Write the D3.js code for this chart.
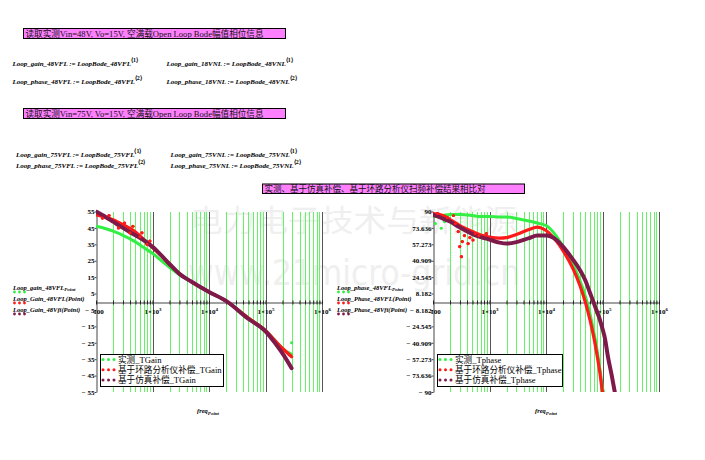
<!DOCTYPE html>
<html><head><meta charset="utf-8">
<script src="https://cdn.jsdelivr.net/npm/d3@7"></script>
<style>body{margin:0;background:#fff}svg{display:block}</style>
</head><body>
<svg id="c" width="705" height="460"></svg>
<script>
// ---------- data ----------
const gainFreq   = [100,150,200,300,500,700,1000,1500,2000,3000,5000,7000,10000,20000,50000,100000,150000,200000,290000];
const gainMeas   = [46,44.5,43,40.5,36.5,33,29.5,24.5,21,16.5,12,9,6,0.5,-10,-17.5,-24,-28.5,-32];
const gainAnaly  = [53,51.5,50,47,42.5,38,33,27.5,23,17,12,9,6,0.5,-10,-17.5,-24,-28.5,-33.5];
const gainSim    = [55,51.5,48.8,45,40.5,37.5,33.5,27.5,23,17,12,9,6,0.5,-10.5,-18,-25.5,-31.5,-40.5];
const gainAnalyScatter = [[130,51],[170,52.5],[250,45],[320,48],[400,42],[450,46],[600,39.5],[650,42],[800,35],[900,37]];
const gainMeasScatter  = [[290000,-25]];

const phaseFreq  = [100,150,200,300,500,700,1000,1500,2000,3000,5000,7000,10000,15000,20000,30000,40000,50000,60000,70000,80000,90000,100000,110000,125000,145000,165000];
const phaseMeas  = [85,86,87,87,86,85,85,84.5,84.5,83,80.5,78.5,76,66,55,37,21,5,-12,-30,-48,-67,-86,-95,-110,-130,-150];
const phaseAnaly = [88,86,82,76,70,66.5,64.5,63.5,64,67,72,74.5,71,61,51,33,16,-1,-18,-35,-53,-71,-90,-100,-115,-135,-155];
const phaseSim   = [86.5,83,80,74,67.5,64.5,62,59,58,59.5,63.5,66,66,62,55,42,31.5,21,9,-1,-10,-18,-27,-36,-55,-73,-90];
const phaseAnalyScatter = [[120,88],[180,84],[230,86],[250,78],[280,70],[297,55],[318,45],[330,60],[360,66],[418,58],[450,64],[510,61.6],[560,68],[650,66],[880,68]];
const phaseMeasScatter  = [[110,78],[140,73.3],[160,80],[197,83],[260,76]];

const gainTicks  = [55,45,35,25,15,5,-5,-15,-25,-35,-45,-55];
const phaseTicks = [90,73.636,57.273,40.909,24.545,8.182,-8.182,-24.545,-40.909,-57.273,-73.636,-90];
const decades    = [100,1000,10000,100000];
const majorFreqs = [1000,10000,100000,1000000];
const majorExp   = ["3","4","5","6"];

const gainLegend  = ["实测_TGain","基于环路分析仪补偿_TGain","基于仿真补偿_TGain"];
const phaseLegend = ["实测_Tphase","基于环路分析仪补偿_Tphase","基于仿真补偿_Tphase"];
const colors = ["#33ee44","#ff1a1a","#7d1a4a"];

const svg = d3.select("#c");
svg.append("rect").attr("width",705).attr("height",460).attr("fill","#fff");

const SERIF = "'Liberation Serif','Times New Roman',serif";
const CJK = "'Liberation Serif','Noto Sans CJK SC',serif";

// ---------- watermark ----------
svg.append("text").attr("x",190).attr("y",231).attr("font-family","'Noto Sans CJK SC'")
  .attr("font-size",30).attr("fill","#efefef").attr("textLength",327).attr("lengthAdjust","spacingAndGlyphs")
  .text("电力电子技术与新能源");
svg.append("text").attr("x",188).attr("y",285).attr("font-family","'DejaVu Sans'")
  .attr("font-size",36).attr("fill","#efefef").attr("textLength",332).attr("lengthAdjust","spacingAndGlyphs")
  .text("www.21micro-grid.cn");

// ---------- title boxes ----------
function titleBox(x,y,w,h,len,txt){
  svg.append("rect").attr("x",x).attr("y",y).attr("width",w).attr("height",h)
    .attr("fill","#ff80ff").attr("stroke","#000").attr("stroke-width",1);
  svg.append("text").attr("x",x+2).attr("y",y+h-1.8).attr("font-family",CJK).attr("font-size",8.8)
    .attr("textLength",len).attr("lengthAdjust","spacingAndGlyphs").attr("fill","#111").text(txt);
}
titleBox(23.5,28.5,262,10,238,"读取实测Vin=48V, Vo=15V, 空满载Open Loop Bode幅值相位信息");
titleBox(23.5,108.5,262,10,238,"读取实测Vin=75V, Vo=15V, 空满载Open Loop Bode幅值相位信息");
titleBox(262.5,184,262,9.5,221,"实测、基于仿真补偿、基于环路分析仪扫频补偿结果相比对");

// ---------- equations ----------
function eq(x,y,main,sup){
  const t = svg.append("text").attr("x",x).attr("y",y).attr("font-family",SERIF).attr("font-size",7)
    .attr("font-weight","bold").attr("font-style","italic").attr("fill","#000");
  t.append("tspan").text(main);
  t.append("tspan").attr("dy",-4).attr("font-size",6).attr("font-style","normal").text(sup);
}
eq(12.5,65.5,"Loop_gain_48VFL := LoopBode_48VFL","⟨1⟩");
eq(12.5,83.5,"Loop_phase_48VFL := LoopBode_48VFL","⟨2⟩");
eq(166.5,65.5,"Loop_gain_18VNL := LoopBode_48VNL","⟨1⟩");
eq(166.5,83.5,"Loop_phase_18VNL := LoopBode_48VNL","⟨2⟩");
eq(16,156.5,"Loop_gain_75VFL := LoopBode_75VFL","⟨1⟩");
eq(16,167.5,"Loop_phase_75VFL := LoopBode_75VFL","⟨2⟩");
eq(170.5,156.5,"Loop_gain_75VNL := LoopBode_75VNL","⟨1⟩");
eq(170.5,167.5,"Loop_phase_75VNL := LoopBode_75VNL","⟨2⟩");

// ---------- chart ----------
function drawChart(cfg){
  const {x,y,ticks,fmt,lines,scatters,legend,legendBox,outLegend,outX,xLabelX,id} = cfg;
  const [x0,x1] = x.range(); const [yb,yt] = y.range();
  const g = svg.append("g");
  const minors = [];
  decades.forEach(d=>{ for(let k=2;k<=9;k++) minors.push(k*d); });
  const px = v => Math.round(x(v))+0.5;
  g.selectAll(null).data(minors).join("line")
    .attr("x1",px).attr("x2",px).attr("y1",yt).attr("y2",yb)
    .attr("stroke","#66f266").attr("stroke-width",1).attr("shape-rendering","crispEdges");
  g.selectAll(null).data(majorFreqs).join("line")
    .attr("x1",px).attr("x2",px).attr("y1",yt).attr("y2",yb)
    .attr("stroke","#555").attr("stroke-width",1).attr("shape-rendering","crispEdges");

  // y axis
  const gy = g.append("g").attr("transform",`translate(${Math.round(x0)+0.5},0)`)
    .call(d3.axisLeft(y).tickValues(ticks).tickSizeInner(2).tickSizeOuter(0).tickFormat(fmt));
  gy.select(".domain").attr("stroke","#444");
  gy.selectAll(".tick line").attr("stroke","#444");
  gy.selectAll(".tick text").attr("x",-2).attr("font-family",SERIF).attr("font-size",7)
    .attr("font-weight","bold").attr("fill","#000");

  // x axis at zero
  const y0 = Math.round(y(0))+0.5;
  const allX = [100,...minors,...majorFreqs];
  const gx = g.append("g").attr("transform",`translate(0,${y0})`)
    .call(d3.axisBottom(x).tickValues(allX).tickSizeInner(2).tickSizeOuter(0)
      .tickFormat(d => d===100 ? "100" : (majorFreqs.includes(d) ? "1×10" : "")));
  gx.select(".domain").attr("stroke","#444").attr("stroke-width",1.2);
  gx.selectAll(".tick line").attr("y1",-2).attr("y2",2).attr("stroke","#222");
  gx.selectAll(".tick text").attr("y",7).attr("dy","0.71em").attr("font-family",SERIF)
    .attr("font-size",7).attr("font-weight","bold").attr("fill","#000")
    .each(function(d){
      const i = majorFreqs.indexOf(d);
      if(i>=0){ d3.select(this).append("tspan").attr("dy",-3).attr("font-size",5).text(majorExp[i]); }
      if(d===100){ d3.select(this).attr("dx",2); }
    });

  // data
  const clip = svg.append("clipPath").attr("id",id).append("rect")
    .attr("x",x0).attr("y",yt-2).attr("width",x1-x0+4).attr("height",yb-yt+2);
  const dg = g.append("g").attr("clip-path",`url(#${id})`);
  const line = d3.line().x(d=>x(d[0])).y(d=>y(d[1])).curve(d3.curveMonotoneX);
  const widths = [3,3.2,4];
  scatters.forEach((s,i)=>{
    dg.selectAll(null).data(s).join("circle").attr("cx",d=>x(d[0])).attr("cy",d=>y(d[1]))
      .attr("r",1.6).attr("fill",colors[i]);
  });
  lines.forEach((L,i)=>{
    dg.append("path").datum(L).attr("d",line).attr("fill","none").attr("stroke",colors[i])
      .attr("stroke-width",widths[i]).attr("stroke-linejoin","round").attr("stroke-linecap","round");
  });
  dg.selectAll(null).data(scatters[1]).join("circle").attr("cx",d=>x(d[0])).attr("cy",d=>y(d[1]))
      .attr("r",1.6).attr("fill",colors[1]);

  // legend box
  const [lx,ly,lw,lh] = legendBox;
  g.append("rect").attr("x",lx+0.5).attr("y",ly+0.5).attr("width",lw).attr("height",lh)
    .attr("fill","#fff").attr("stroke","#000").attr("stroke-width",1);
  legend.forEach((t,i)=>{
    const by = ly + 8 + i*10.3;
    [3,8.5,14].forEach(dx=> g.append("circle").attr("cx",lx+dx).attr("cy",by-2.5).attr("r",1.5).attr("fill",colors[i]));
    g.append("text").attr("x",lx+18).attr("y",by+0.5).attr("font-family",CJK).attr("font-size",8.6)
      .attr("fill","#000").text(t);
  });

  // outside legend
  outLegend.forEach((o,i)=>{
    const ty = 289.5 + i*11;
    const t = g.append("text").attr("x",outX).attr("y",ty).attr("font-family",SERIF).attr("font-size",6.5)
      .attr("font-weight","bold").attr("font-style","italic").attr("fill","#000");
    t.append("tspan").text(o[0]);
    if(o[1]) t.append("tspan").attr("dy",1.5).attr("font-size",5).text(o[1]);
    [1.5,6.5,11.5].forEach(dx=> g.append("circle").attr("cx",outX+dx).attr("cy",ty+2.5).attr("r",1.4).attr("fill",colors[i]));
  });

  // x label
  const xl = g.append("text").attr("x",xLabelX).attr("y",413).attr("font-family",SERIF).attr("font-size",6.5)
    .attr("font-weight","bold").attr("font-style","italic").attr("fill","#000");
  xl.append("tspan").text("freq");
  xl.append("tspan").attr("dy",2).attr("font-size",5).text("Point");
}

const fmtNum = d => d<0 ? "− "+Math.abs(d) : String(d);

drawChart({
  id:"clipL",
  x: d3.scaleLog().domain([100,1e6]).range([96,322]),
  y: d3.scaleLinear().domain([-55,55]).range([392,211.5]),
  ticks: gainTicks, fmt: fmtNum,
  lines: [gainFreq.map((f,i)=>[f,gainMeas[i]]), gainFreq.map((f,i)=>[f,gainAnaly[i]]), gainFreq.map((f,i)=>[f,gainSim[i]])],
  scatters: [gainMeasScatter, gainAnalyScatter, []],
  legend: gainLegend, legendBox:[100,354,123,32],
  outLegend: [["Loop_gain_48VFL","Point"],["Loop_Gain_48VFL(Point)",""],["Loop_Gain_48Vfi(Point)",""]],
  outX: 13, xLabelX: 197
});
drawChart({
  id:"clipR",
  x: d3.scaleLog().domain([100,1e6]).range([433,659]),
  y: d3.scaleLinear().domain([-90,90]).range([392,211.5]),
  ticks: phaseTicks, fmt: fmtNum,
  lines: [phaseFreq.map((f,i)=>[f,phaseMeas[i]]), phaseFreq.map((f,i)=>[f,phaseAnaly[i]]), phaseFreq.map((f,i)=>[f,phaseSim[i]])],
  scatters: [phaseMeasScatter, phaseAnalyScatter, []],
  legend: phaseLegend, legendBox:[437,354,125,32],
  outLegend: [["Loop_phase_48VFL","Point"],["Loop_Phase_48VFL(Point)",""],["Loop_Phase_48Vfi(Point)",""]],
  outX: 337, xLabelX: 535
});
</script>
</body></html>
